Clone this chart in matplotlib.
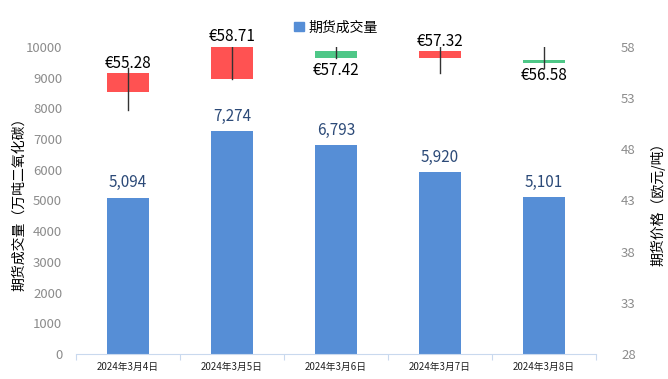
import matplotlib
matplotlib.use('Agg')
from matplotlib import pyplot as plt
from matplotlib.patches import Rectangle

plt.rcParams['font.family'] = ['Noto Sans CJK SC', 'DejaVu Sans']

# Data
dates = ['2024年3月4日', '2024年3月5日', '2024年3月6日', '2024年3月7日', '2024年3月8日']
volume = [5094, 7274, 6793, 5920, 5101]
price_open = [53.62, 54.86, 57.58, 56.95, 56.75]
price_close = [55.45, 58.71, 56.95, 57.58, 56.46]
price_high = [55.9, 58.9, 58.0, 58.0, 58.0]
price_low = [51.8, 54.86, 56.9, 55.5, 55.9]
price_labels = ['€55.28', '€58.71', '€57.42', '€57.32', '€56.58']
label_above = [True, True, False, True, False]

bar_color = '#568ed6'
up_color = '#ff5252'
down_color = '#4ec787'
tick_color = '#8c8c8c'

fig = plt.figure(figsize=(6.68, 3.79), dpi=100)
ax = fig.add_axes([0.1138, 0.066, 0.7784, 0.81])
ax2 = ax.twinx()

x = list(range(len(dates)))
width = 0.4

# Volume bars
ax.bar(x, volume, width=width, color=bar_color, zorder=2)
for xi, v in zip(x, volume):
    ax.text(xi, v + 200, f'{v:,}', ha='center', va='bottom', fontsize=11, color='#2c4a78')

ax.set_xlim(-0.5, 4.5)
ax.set_ylim(0, 10000)
ax.set_yticks(range(0, 10001, 1000))
ax.set_xticks([i + 0.5 for i in range(-1, 5)], minor=False)
ax.set_xticklabels([''] * 6)
ax.set_xticks(x, minor=True)
ax.set_xticklabels(dates, minor=True, fontsize=7, color='#222222')
ax.tick_params(axis='x', which='minor', length=0, pad=6)
ax.tick_params(axis='x', which='major', length=4, color='#c9d9ee')
ax.tick_params(axis='y', length=0, labelsize=9.5, labelcolor=tick_color, pad=10)
ax.set_ylabel('期货成交量（万吨二氧化碳）', fontsize=10, color='black')
ax.yaxis.set_label_coords(-0.095, 0.5)

for s in ['top', 'left', 'right']:
    ax.spines[s].set_visible(False)
    ax2.spines[s].set_visible(False)
ax.spines['bottom'].set_color('#c9d9ee')
ax2.spines['bottom'].set_visible(False)

# Candlesticks on the price axis
ax2.set_ylim(28, 58)
ax2.set_yticks(range(28, 59, 5))
ax2.tick_params(axis='y', length=0, labelsize=9.5, labelcolor=tick_color, pad=18)
ax2.set_ylabel('期货价格（欧元/吨）', fontsize=10, color='black')
ax2.yaxis.set_label_coords(1.104, 0.5)

for i in x:
    o, c = price_open[i], price_close[i]
    col = up_color if c >= o else down_color
    low_edge = min(o, c)
    h = max(abs(c - o), 0.3)
    ax2.add_patch(Rectangle((i - width / 2, low_edge), width, h,
                            facecolor=col, edgecolor='none', zorder=3))
    ax2.plot([i, i], [price_low[i], price_high[i]], color='#333333', lw=1, zorder=4)
    if label_above[i]:
        ax2.text(i, min(max(o, c), 58) + 0.15, price_labels[i], ha='center', va='bottom',
                 fontsize=11, color='black', zorder=5)
    else:
        ax2.text(i, min(o, c) - 0.4, price_labels[i], ha='center', va='top',
                 fontsize=11, color='black', zorder=5)

# Legend
ax.legend([Rectangle((0, 0), 1, 1, color=bar_color)], ['期货成交量'],
          loc='lower center', bbox_to_anchor=(0.5, 1.0), frameon=False,
          fontsize=10, handlelength=0.7, handleheight=0.7, handletextpad=0.3)

plt.savefig('out.png', dpi=100)
